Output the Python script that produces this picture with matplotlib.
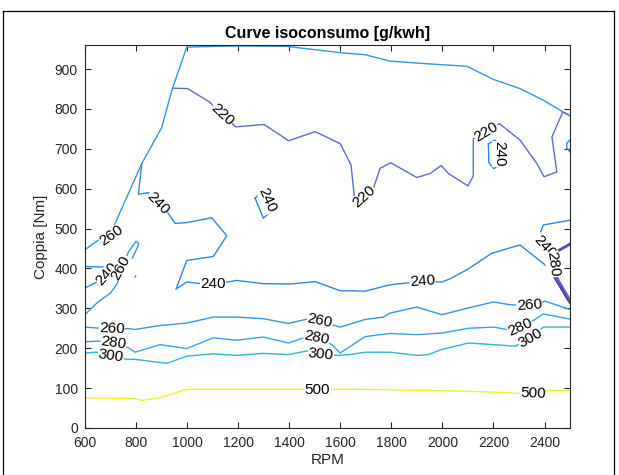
import matplotlib
matplotlib.use("Agg")
import matplotlib.pyplot as plt
from matplotlib.lines import Line2D

plt.rcParams["font.family"] = ["Liberation Sans", "DejaVu Sans"]

# ---- contour polylines (RPM, torque Nm) ----
c260_out_x = [600, 706, 823, 901, 941, 999, 1195, 1391, 1600, 1697, 1795, 1900, 2096, 2200, 2304, 2395, 2500]
c260_out_y = [447, 495, 663, 753, 847, 955, 958, 957, 941, 936, 920, 915, 907, 874, 851, 822, 782]

c220_x = [945, 1002, 1087, 1191, 1302, 1380, 1397, 1502, 1600, 1642, 1658, 1730, 1756, 1798, 1900, 1952,
          1995, 2024, 2100, 2121, 2121, 2223, 2304, 2370, 2398, 2448, 2429, 2471, 2492]
c220_y = [852, 851, 818, 755, 761, 728, 720, 743, 713, 660, 565, 601, 651, 665, 628, 638,
          658, 638, 607, 632, 724, 763, 722, 663, 630, 642, 730, 792, 787]

c240_a_x = [1267, 1297, 1332, 1299, 1267]
c240_a_y = [576, 597, 545, 526, 576]

c240_b_x = [2180, 2205, 2222, 2222, 2202, 2182, 2180]
c240_b_y = [712, 722, 712, 660, 650, 665, 712]

c240_main_x = [823, 810, 849, 927, 954, 999, 1097, 1156, 1103, 999, 957, 999, 1038, 1103, 1169, 1195,
               1299, 1404, 1502, 1600, 1639, 1697, 1795, 1922, 1998, 2030, 2102, 2193, 2304, 2402,
               2435, 2487, 2500]
c240_main_y = [663, 586, 590, 538, 513, 515, 527, 482, 430, 420, 348, 366, 363, 360, 367, 370,
               362, 361, 367, 344, 344, 343, 359, 368, 366, 374, 399, 438, 459, 409,
               380, 326, 316]

c240_right_x = [2500, 2395, 2385, 2395, 2413, 2440, 2480, 2500]
c240_right_y = [521, 509, 492, 463, 430, 395, 335, 312]

c240_left_x = [600, 700, 722, 705, 660, 600]
c240_left_y = [405, 403, 398, 385, 370, 351]

c240_blip_x = [2500, 2487, 2487, 2500]
c240_blip_y = [722, 714, 701, 692]

c240_dot_x = [797, 799]
c240_dot_y = [379, 381]

c260_b_x = [600, 650, 700, 728, 745, 770, 800, 812, 790, 765]
c260_b_y = [284, 315, 338, 363, 400, 440, 468, 462, 430, 405]

c260_x = [600, 640, 706, 771, 797, 895, 999, 1103, 1195, 1299, 1397, 1469, 1521, 1600, 1697, 1769,
          1795, 1900, 1998, 2102, 2200, 2265, 2340, 2402, 2500]
c260_y = [253, 251, 248, 249, 247, 257, 263, 278, 278, 274, 262, 273, 268, 253, 272, 278,
          288, 303, 284, 301, 316, 309, 307, 318, 297]

c280_x = [600, 653, 712, 771, 797, 895, 999, 1103, 1195, 1299, 1397, 1456, 1508, 1567, 1600, 1697,
          1795, 1900, 1998, 2102, 2200, 2252, 2304, 2363, 2395, 2500]
c280_y = [216, 218, 213, 201, 190, 209, 199, 226, 220, 228, 213, 226, 226, 209, 188, 229,
          237, 234, 238, 250, 253, 247, 255, 272, 286, 273]

c300_x = [600, 647, 702, 765, 797, 921, 999, 1103, 1195, 1299, 1397, 1469, 1524, 1593, 1639, 1697,
          1795, 1900, 1945, 1998, 2102, 2200, 2285, 2344, 2395, 2500]
c300_y = [188, 190, 180, 172, 172, 162, 180, 186, 182, 187, 184, 193, 186, 182, 184, 190,
          190, 182, 184, 197, 213, 209, 205, 226, 253, 253]

c500_x = [600, 797, 823, 895, 999, 1103, 1443, 1511, 1580, 1639, 1795, 2102, 2200, 2291, 2354, 2409, 2500]
c500_y = [76, 73.5, 69, 76, 97, 97, 97, 96, 97, 97, 96, 92, 90, 87, 87, 94, 94]

cp_x = [2500, 2441, 2428, 2435, 2493, 2500]
cp_y = [463, 442, 409, 380, 318, 312]
cp_shift = [0, 6, 12]

# labels: text, rpm, torque, rotation
labels = [
    ("220", 1139, 786, -43), ("220", 1695, 580, 42), ("220", 2172, 743, 31),
    ("240", 888, 564, -46), ("240", 1315, 571, -66), ("240", 2222, 688, -90),
    ("240", 1103, 361, 0), ("240", 1922, 368, 4), ("240", 2400, 455, -48),
    ("240", 688, 386, 48), ("260", 705, 482, 35), ("260", 742, 402, 62),
    ("260", 706, 249, -3), ("260", 1521, 268, -12), ("260", 2340, 308, 4),
    ("280", 712, 213, -8), ("280", 1508, 226, -12), ("280", 2304, 252, 24),
    ("300", 702, 180, -8), ("300", 1524, 185, -6), ("300", 2344, 226, 30),
    ("500", 1511, 95, 0), ("500", 2354, 87, -2), ("280", 2432, 410, -82),
]

col220 = "#5a6dd2"
col240 = "#2f86e0"
col260 = "#3595e4"
col280 = "#35a3e2"
col300 = "#2ab6d8"
col500 = "#f2f224"
colp = ["#4b3aa8", "#5546b8", "#5f58c8"]

fig = plt.figure(figsize=(6.19, 4.75), dpi=100)
ax = fig.add_axes([0.137, 0.099, 0.784, 0.806])

lw = 1.0
ax.plot(c260_out_x, c260_out_y, color=col260, lw=lw)
ax.plot(c220_x, c220_y, color=col220, lw=lw)
for xs, ys in [(c240_a_x, c240_a_y), (c240_b_x, c240_b_y), (c240_main_x, c240_main_y),
               (c240_right_x, c240_right_y), (c240_left_x, c240_left_y),
               (c240_blip_x, c240_blip_y), (c240_dot_x, c240_dot_y)]:
    ax.plot(xs, ys, color=col240, lw=lw)
ax.plot(c260_b_x, c260_b_y, color=col260, lw=lw)
ax.plot(c260_x, c260_y, color=col260, lw=lw)
ax.plot(c280_x, c280_y, color=col280, lw=lw)
ax.plot(c300_x, c300_y, color=col300, lw=lw)
ax.plot(c500_x, c500_y, color=col500, lw=lw)
for s, c in zip(cp_shift, colp):
    ax.plot([x + s for x in cp_x], cp_y, color=c, lw=lw)

for t, x, y, r in labels:
    ax.text(x, y, t, rotation=r, rotation_mode="anchor", ha="center", va="center",
            fontsize=11, color="black", zorder=5,
            bbox=dict(facecolor="white", edgecolor="none", pad=0.2))

ax.set_xlim(600, 2500)
ax.set_ylim(0, 960)
ax.set_xticks(range(600, 2401, 200))
ax.set_yticks(range(0, 901, 100))
ax.tick_params(direction="in", length=4.5, width=0.8, top=True, right=True,
               labelsize=10, colors="#262626")
ax.tick_params(axis="x", pad=6)
ax.tick_params(axis="y", pad=5)
for sp in ax.spines.values():
    sp.set_color("#262626")
    sp.set_linewidth(0.8)
ax.set_xlabel("RPM", fontsize=11, color="#262626", labelpad=2)
ax.set_ylabel("Coppia [Nm]", fontsize=11, color="#262626", labelpad=5)
ax.set_title("Curve isoconsumo [g/kwh]", fontsize=11.5, fontweight="bold", pad=5)

# screenshot frame
fig.add_artist(Line2D([0.005, 0.992], [0.977, 0.977], color="black", lw=0.9))
fig.add_artist(Line2D([0.005, 0.005], [0.0, 0.977], color="black", lw=0.9))
fig.add_artist(Line2D([0.992, 0.992], [0.0, 0.977], color="black", lw=0.9))

fig.savefig("out.png", dpi=100)
